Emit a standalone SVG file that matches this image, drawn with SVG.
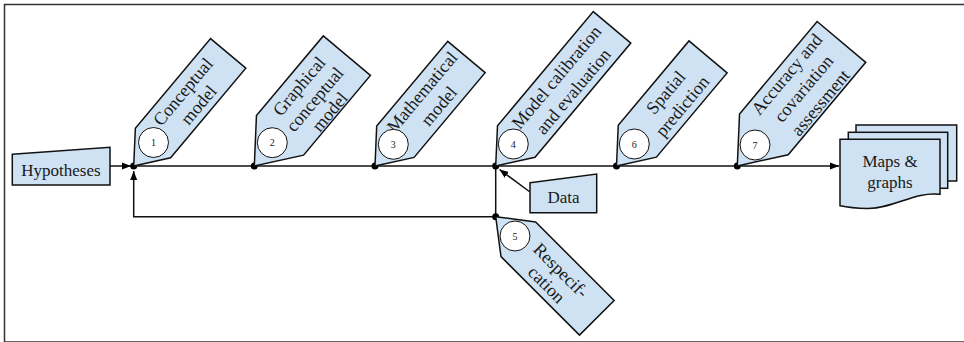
<svg xmlns="http://www.w3.org/2000/svg" width="964" height="342" viewBox="0 0 964 342">
  <style>
    .frame { fill: none; stroke: #333; stroke-width: 1.5; }
    .shape { fill: #cfe2f3; stroke: #111; stroke-width: 1.5; stroke-linejoin: miter; }
    .num { fill: #fff; stroke: #111; stroke-width: 1; }
    .line { fill: none; stroke: #111; stroke-width: 1.5; }
    .dot { fill: #000; }
    .label { font-family: "Liberation Serif", "Times New Roman", serif; font-size: 18px; fill: #1a1a1a; text-anchor: middle; }
    .box { font-size: 17px; }
    .ntxt { font-family: "Liberation Serif", "Times New Roman", serif; font-size: 10px; fill: #1a1a1a; text-anchor: middle; }
  </style>
  <defs>
    <marker id="arrow" markerWidth="10" markerHeight="8" refX="9" refY="4" orient="auto" markerUnits="userSpaceOnUse">
      <path d="M0,0.5 L9,4 L0,7.5 Z" fill="#000"/>
    </marker>
  </defs>

  <rect class="frame" x="4.5" y="4.5" width="970" height="337.5"/>

  <!-- connectors -->
  <g id="connectors">
    <path class="line" d="M110,166 H131" marker-end="url(#arrow)"/>
    <path class="line" d="M133.7,166 H839" marker-end="url(#arrow)"/>
    <path class="line" d="M495.7,166 V216.7 H133.7 V171" marker-end="url(#arrow)"/>
    <path class="line" d="M530,192 L499.5,169.5" marker-end="url(#arrow)"/>
    <circle class="dot" cx="133.7" cy="166" r="3.5"/>
    <circle class="dot" cx="254.3" cy="166" r="3.5"/>
    <circle class="dot" cx="375" cy="166" r="3.5"/>
    <circle class="dot" cx="495.7" cy="166" r="3.5"/>
    <circle class="dot" cx="616.5" cy="166" r="3.5"/>
    <circle class="dot" cx="737.3" cy="166" r="3.5"/>
    <circle class="dot" cx="495.7" cy="216.7" r="3.5"/>
  </g>

  <!-- input boxes -->
  <g id="hypotheses">
    <polygon class="shape" points="12.3,154.3 110,147.3 110,185 12.3,185"/>
    <text class="label box" x="61" y="176">Hypotheses</text>
  </g>
  <g id="data">
    <polygon class="shape" points="530,182.7 596.7,174 596.7,212.7 530,212.7"/>
    <text class="label box" x="563.5" y="203">Data</text>
  </g>

  <!-- steps -->
  <g id="step1">
    <g transform="translate(133.7,166) rotate(-50)">
      <polygon class="shape" points="0,0 30,-23 147,-23 147,23 30,23"/>
      <text class="label" x="88.5" y="-4">Conceptual</text>
      <text class="label" x="88.5" y="16.5">model</text>
    </g>
    <circle class="num" cx="153.5" cy="142.5" r="15"/>
    <text class="ntxt" x="153.5" y="146">1</text>
  </g>

  <g id="step2">
    <g transform="translate(254.3,166) rotate(-50)">
      <polygon class="shape" points="0,0 40,-30.75 144,-30.75 144,30.75 40,30.75"/>
      <text class="label" x="90" y="-11">Graphical</text>
      <text class="label" x="90" y="9.5">conceptual</text>
      <text class="label" x="90" y="29">model</text>
    </g>
    <circle class="num" cx="272.3" cy="142.7" r="15"/>
    <text class="ntxt" x="272.3" y="146.2">2</text>
  </g>

  <g id="step3">
    <g transform="translate(375,166) rotate(-50)">
      <polygon class="shape" points="0,0 31.7,-24.4 142.3,-24.4 142.3,24.4 31.7,24.4"/>
      <text class="label" x="87" y="-5.5">Mathematical</text>
      <text class="label" x="87" y="16.5">model</text>
    </g>
    <circle class="num" cx="393.3" cy="144.3" r="15"/>
    <text class="ntxt" x="393.3" y="147.8">3</text>
  </g>

  <g id="step4">
    <g transform="translate(495.7,166) rotate(-50)">
      <polygon class="shape" points="0,0 32,-24.5 181,-24.5 181,24.5 32,24.5"/>
      <text class="label" x="107" y="-4.5">Model calibration</text>
      <text class="label" x="107" y="17.5">and evaluation</text>
    </g>
    <circle class="num" cx="513.3" cy="144" r="15"/>
    <text class="ntxt" x="513.3" y="147.5">4</text>
  </g>

  <g id="step5">
    <g transform="translate(495.7,216.7) rotate(45)">
      <polygon class="shape" points="0,0 32,-24.5 143,-24.5 143,24.5 32,24.5"/>
      <text class="label" x="84" y="-2">Respecif-</text>
      <text class="label" x="84" y="18">cation</text>
    </g>
    <circle class="num" cx="515" cy="236" r="15"/>
    <text class="ntxt" x="515" y="239.5">5</text>
  </g>

  <g id="step6">
    <g transform="translate(616.5,166) rotate(-50)">
      <polygon class="shape" points="0,0 32.4,-24.9 142.4,-24.9 142.4,24.9 32.4,24.9"/>
      <text class="label" x="88" y="-3.5">Spatial</text>
      <text class="label" x="88" y="18">prediction</text>
    </g>
    <circle class="num" cx="634.3" cy="144" r="15"/>
    <text class="ntxt" x="634.3" y="147.5">6</text>
  </g>

  <g id="step7">
    <g transform="translate(737.3,166) rotate(-50)">
      <polygon class="shape" points="0,0 41.3,-31.75 162,-31.75 162,31.75 41.3,31.75"/>
      <text class="label" x="102" y="-15">Accuracy and</text>
      <text class="label" x="102" y="7">covariation</text>
      <text class="label" x="102" y="29">assessment</text>
    </g>
    <circle class="num" cx="755" cy="145" r="15"/>
    <text class="ntxt" x="755" y="148.5">7</text>
  </g>

  <!-- output documents -->
  <g id="maps-graphs">
    <rect class="shape" x="856" y="125" width="100.7" height="56"/>
    <rect class="shape" x="848.3" y="132.3" width="99.4" height="56"/>
    <path class="shape" d="M840,139.3 H940 V194.3 C915,191 893,209 867,208.5 C856,208.3 847,207.3 840,205.8 Z"/>
    <text class="label box" x="890" y="167">Maps &amp;</text>
    <text class="label box" x="890" y="188">graphs</text>
  </g>
</svg>
